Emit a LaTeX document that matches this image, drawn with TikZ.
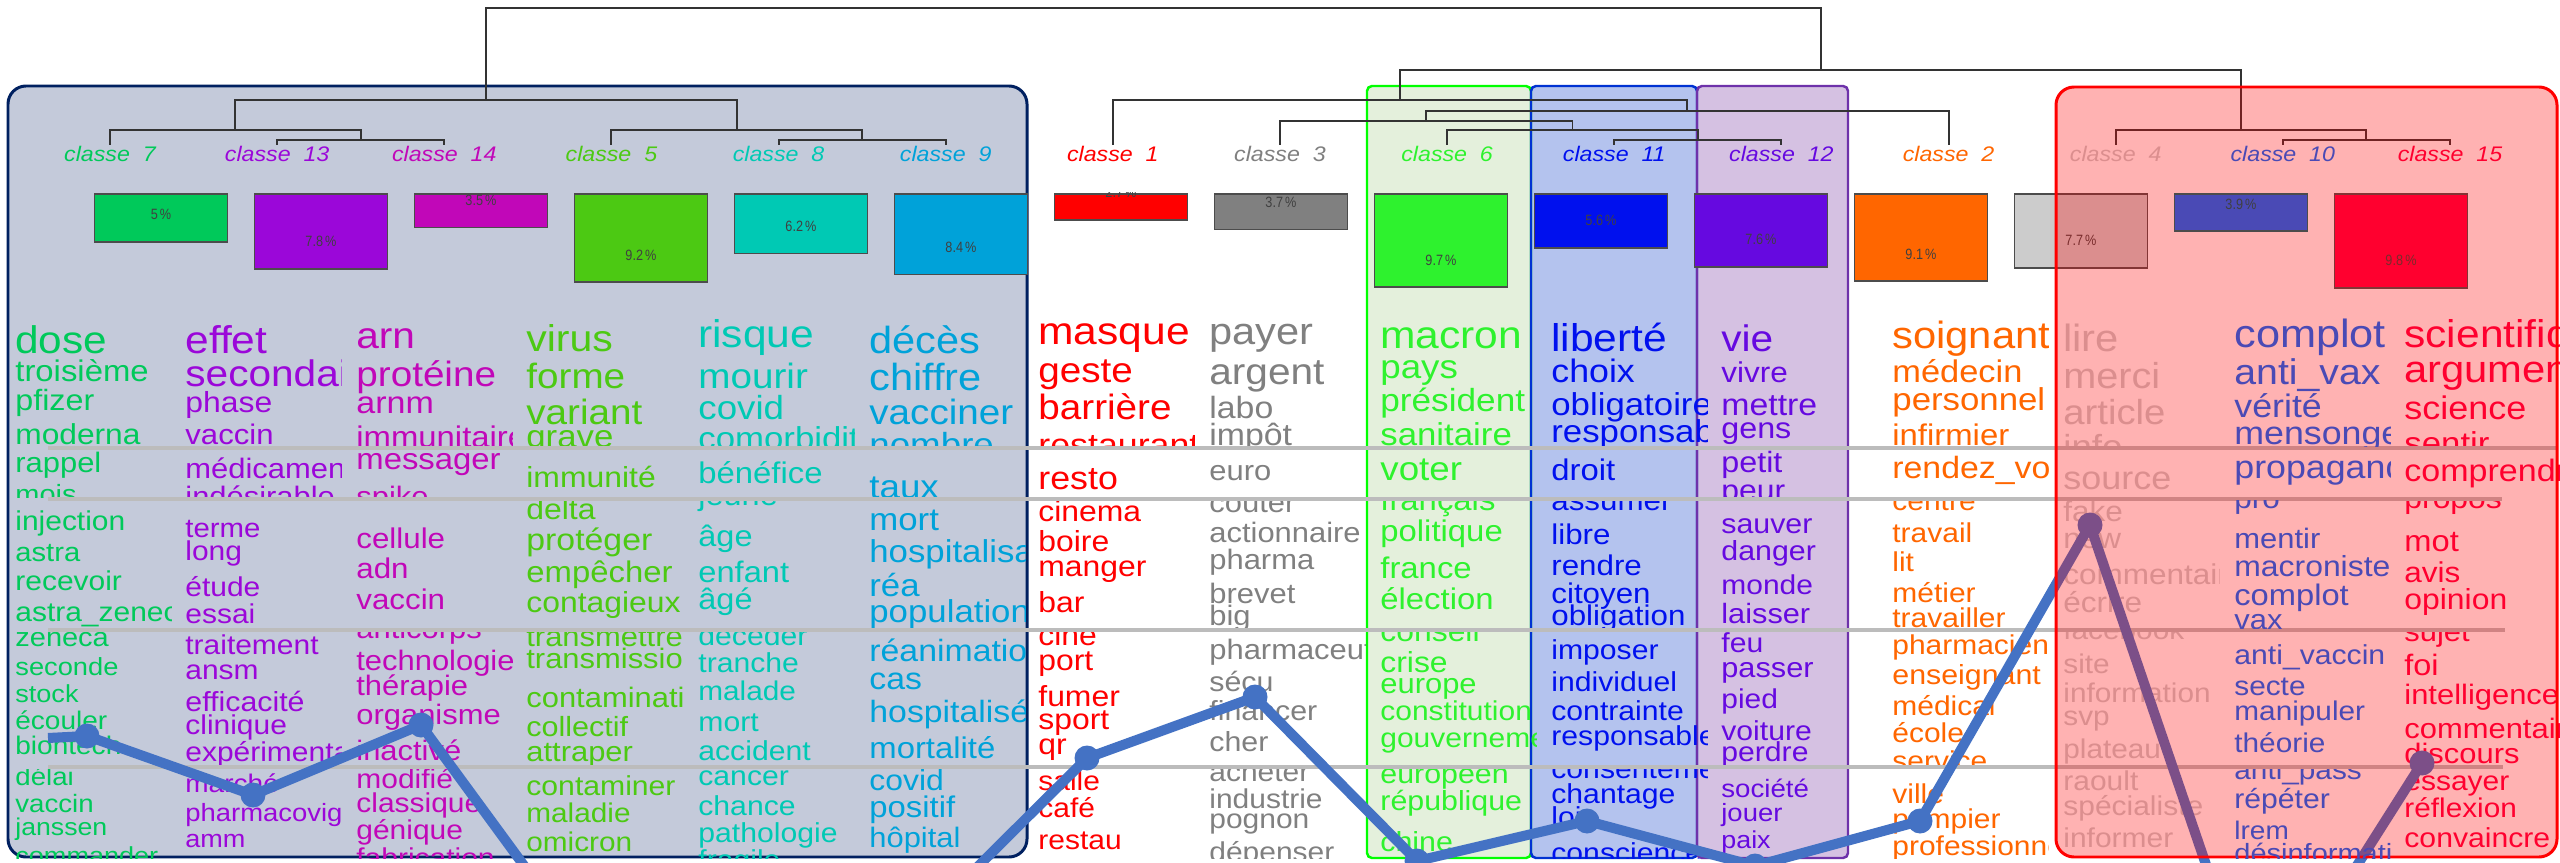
\documentclass[tikz,border=0pt]{standalone}
\usepackage{fontspec}
\setmainfont{Liberation Sans}

\definecolor{c7}{RGB}{0,201,90}
\definecolor{c13}{RGB}{155,7,217}
\definecolor{c14}{RGB}{193,7,184}
\definecolor{c5}{RGB}{76,201,19}
\definecolor{c8}{RGB}{0,201,180}
\definecolor{c9}{RGB}{0,162,217}
\definecolor{c1}{RGB}{255,0,0}
\definecolor{c3}{RGB}{128,128,128}
\definecolor{c6}{RGB}{46,242,46}
\definecolor{c11}{RGB}{0,16,238}
\definecolor{c12}{RGB}{102,9,224}
\definecolor{c2}{RGB}{255,102,0}
\definecolor{c4}{RGB}{204,204,204}
\definecolor{c10}{RGB}{74,74,181}
\definecolor{c15}{RGB}{255,0,68}
\definecolor{navy}{RGB}{0,32,96}
\definecolor{navyfill}{RGB}{196,202,218}
\definecolor{greenfill}{RGB}{228,240,220}
\definecolor{bluefill}{RGB}{180,195,238}
\definecolor{bluerule}{RGB}{0,50,210}
\definecolor{purplefill}{RGB}{213,193,226}
\definecolor{purplerule}{RGB}{110,50,170}
\definecolor{trend}{RGB}{68,114,196}
\definecolor{sep}{RGB}{188,188,188}

\pgfdeclarelayer{front}
\pgfsetlayers{main,front}

% word bands between the grey rules
\newcommand\bandtop[1]{\ifcase#1\or300\or450\or500\or632\or769\fi}
\newcommand\bandbot[1]{\ifcase#1\or446\or497\or628\or765\or858\fi}

% one column of the word cloud: class, left x, band/baseline/size/word
\newcommand\cloudcol[3]{%
  \foreach[count=\i] \bd/\yy/\sz/\wrd in {#3}{%
    \edef\cliptop{\bandtop{\bd}}\edef\clipbot{\bandbot{\bd}}%
    \begin{scope}
      \clip (#2-4,\cliptop) rectangle (#2+156,\clipbot);
      \node[word, text=c#1, font=\fontsize{\sz}{\sz}\selectfont] (w#1-\i) at (#2,\yy) {\wrd};
    \end{scope}%
  }%
}

% leaf label, size bar and percentage of one class: position, class, percent
\newcommand\classbox[3]{%
  \node[lab, text=c#2] (l#2) at ({110+167.14*(#1-1)},162) {classe\ \ #2};
  \node[pbox, fill=c#2, minimum height={#3*1.92mm}] (b#2) at ({161+160*(#1-1)},193) {};
  \begin{scope}
    \clip (b#2.south west) rectangle (b#2.north east);
    \node[pct] (t#2) at ([yshift=5.6mm]b#2.south) {#3\,\%};
  \end{scope}%
}

\tikzset{
  word/.style={anchor=base west, inner sep=0pt, xscale=1.1},
  lab/.style={anchor=base, inner sep=1pt, xscale=1.1, font=\itshape\fontsize{12}{12}\selectfont},
  pbox/.style={anchor=north, draw=black!70, line width=1pt, minimum width=26.6mm, inner sep=0pt},
  pct/.style={inner sep=0pt, xscale=0.85, text=black!75, font=\fontsize{8.5}{8.5}\selectfont},
  dendro/.style={draw=black!80, line width=1.1pt},
  sepline/.style={draw=sep, line width=2.3pt},
  trendline/.style={draw=trend, line width=5.7pt, line join=round},
  dot/.style={circle, fill=trend, inner sep=0pt, minimum size=5mm},
}

\begin{document}
\begin{tikzpicture}[x=0.2mm, y=-0.2mm]
  \useasboundingbox (0,0) rectangle (2560,863);
  \clip (0,0) rectangle (2560,863);
  \fill[white] (0,0) rectangle (2560,863);

  % groups
  \fill[navyfill, rounded corners=3.6mm] (8,86) rectangle (1027,857);
  \fill[greenfill, rounded corners=1mm] (1367,86) rectangle (1531,858);
  \fill[bluefill, rounded corners=1mm] (1531,86) rectangle (1697,858);
  \fill[purplefill, rounded corners=1mm] (1697,86) rectangle (1848,858);
  \draw[navy, line width=1.7pt, rounded corners=3.6mm] (8,86) rectangle (1027,857);
  \draw[green, line width=1.4pt, rounded corners=1mm] (1367,86) rectangle (1531,858);
  \draw[bluerule, line width=1.4pt, rounded corners=1mm] (1531,86) rectangle (1697,858);
  \draw[purplerule, line width=1.4pt, rounded corners=1mm] (1697,86) rectangle (1848,858);

  % red group lies over everything but class 10
  \begin{pgfonlayer}{front}
    \fill[red, fill opacity=0.3, rounded corners=3.6mm] (2056,87) rectangle (2557,857);
    \draw[red, line width=1.7pt, rounded corners=3.6mm] (2056,87) rectangle (2557,857);
  \end{pgfonlayer}

  % classes, sizes and percentages
  \foreach \i/\cl/\p in {1/7/5, 2/13/7.8, 3/14/3.5, 4/5/9.2, 5/8/6.2, 6/9/8.4, 7/1/2.7, 8/3/3.7,
      9/6/9.7, 10/11/5.6, 11/12/7.6, 12/2/9.1, 13/4/7.7, 15/15/9.8}
  {
    \classbox{\i}{\cl}{\p}
  }
  \begin{pgfonlayer}{front}
    \classbox{14}{10}{3.9}
  \end{pgfonlayer}

  % dendrogram
  \coordinate (m13-14) at (360.7,140);
  \coordinate (m7-14) at (235.4,130);
  \coordinate (m8-9) at (862.2,140);
  \coordinate (m5-9) at (736.8,130);
  \coordinate (m7-9) at (486.1,100);
  \coordinate (m11-12) at (1697.9,140);
  \coordinate (m6-12) at (1572.5,130);
  \coordinate (m3-12) at (1426.2,121);
  \coordinate (m2-12) at (1687.4,111);
  \coordinate (m1-12) at (1400.1,100);
  \coordinate (m10-15) at (2366.4,140);
  \coordinate (m4-15) at (2241,130);
  \coordinate (m1-15) at (1820.6,70);
  \coordinate (root) at (1153.3,8);
  \draw[dendro] (l13.north) |- (m13-14) -| (l14.north);
  \draw[dendro] (l7.north) |- (m7-14) -| (m13-14);
  \draw[dendro] (l8.north) |- (m8-9) -| (l9.north);
  \draw[dendro] (l5.north) |- (m5-9) -| (m8-9);
  \draw[dendro] (m7-14) |- (m7-9) -| (m5-9);
  \draw[dendro] (l11.north) |- (m11-12) -| (l12.north);
  \draw[dendro] (l6.north) |- (m6-12) -| (m11-12);
  \draw[dendro] (l3.north) |- (m3-12) -| (m6-12);
  \draw[dendro] (m3-12) |- (m2-12) -| (l2.north);
  \draw[dendro] (l1.north) |- (m1-12) -| (m2-12);
  \draw[dendro] (l10.north) |- (m10-15) -| (l15.north);
  \draw[dendro] (l4.north) |- (m4-15) -| (m10-15);
  \draw[dendro] (m1-12) |- (m1-15) -| (m4-15);
  \draw[dendro] (m7-9) |- (root) -| (m1-15);

  % word clouds
  \cloudcol{7}{15}{1/354/21.9/dose, 1/382/17/troisième, 1/410/16.7/pfizer, 1/444/16.4/moderna,
    2/472/16/rappel, 2/503/15/mois,
    3/530/15.5/injection, 3/561/15.1/astra, 3/590/15.5/recevoir, 3/621/15.5/astra\_zeneca,
    4/646/15/zeneca, 4/675/14.1/seconde, 4/702/14/stock, 4/729/14.5/écouler, 4/754/14.5/biontech,
    5/785/14.3/délai, 5/812/14.3/vaccin, 5/835/13.8/janssen, 5/864/14/commander}
  \cloudcol{13}{185}{1/354/22/effet, 1/386/21/secondaire, 1/412/16.5/phase, 1/444/16.1/vaccin,
    2/478/16/médicament, 2/506/16/indésirable,
    3/537/15.2/terme, 3/560/15.5/long, 3/596/15.5/étude, 3/623/15.5/essai,
    4/654/15.5/traitement, 4/679/15.5/ansm, 4/711/15.7/efficacité, 4/734/15.5/clinique, 4/761/15.5/expérimentation,
    5/792/14.5/marché, 5/821/14.2/pharmacovigilance, 5/847/14/amm}
  \cloudcol{14}{356}{1/348/21/arn, 1/386/20/protéine, 1/413/17.6/arnm, 1/447/17/immunitaire,
    2/469/17/messager, 2/506/16/spike,
    3/548/16.2/cellule, 3/578/16.2/adn, 3/609/16.2/vaccin,
    4/638/16/anticorps, 4/670/16/technologie, 4/695/16/thérapie, 4/724/16/organisme, 4/760/16/inactivé,
    5/788/15.5/modifié, 5/812/15.5/classique, 5/839/15.5/génique, 5/867/15.5/fabrication}
  \cloudcol{5}{526}{1/352/21.2/virus, 1/388/20/forme, 1/424/20/variant, 1/447/18/grave,
    2/487/16.5/immunité,
    3/519/16.5/delta, 3/550/17.5/protéger, 3/582/17/empêcher, 3/612/16.5/contagieux,
    4/646/16/transmettre, 4/668/16/transmission, 4/707/16/contamination, 4/736/15.8/collectif, 4/761/16/attraper,
    5/795/15.6/contaminer, 5/822/15.4/maladie, 5/851/15.4/omicron}
  \cloudcol{8}{698}{1/347/22/risque, 1/388/20/mourir, 1/420/19/covid, 1/449/18/comorbidité,
    2/483/17/bénéfice,
    3/505/16.8/jeune, 3/546/16.8/âge, 3/582/16.9/enfant, 3/609/16.8/âgé,
    4/645/15.6/décéder, 4/672/15.6/tranche, 4/700/15.4/malade, 4/731/15.6/mort, 4/760/15.6/accident,
    5/785/15.6/cancer, 5/815/15.6/chance, 5/842/15.6/pathologie, 5/869/15.6/fragile}
  \cloudcol{9}{869}{1/354/21.5/décès, 1/390/21.5/chiffre, 1/424/20/vacciner, 1/456/19/nombre,
    2/498/19/taux,
    3/530/18/mort, 3/562/18/hospitalisation, 3/596/18/réa, 3/622/18/population,
    4/661/17.5/réanimation, 4/689/17.5/cas, 4/722/17.5/hospitalisé, 4/758/17/mortalité,
    5/790/16.5/covid, 5/817/17/positif, 5/847/16/hôpital}
  \cloudcol{1}{1038}{1/345/22/masque, 1/383/20/geste, 1/420/20/barrière, 1/456/18.5/restaurant,
    2/489/18.5/resto,
    3/521/16.5/cinema, 3/551/16.5/boire, 3/576/16.5/manger, 3/612/16.5/bar,
    4/645/16.5/ciné, 4/670/16.5/port, 4/706/16.5/fumer, 4/729/16.5/sport, 4/754/16.5/qr,
    5/790/15.5/salle, 5/817/15.5/café, 5/849/15.5/restau}
  \cloudcol{3}{1209}{1/345/21.5/payer, 1/384/21/argent, 1/418/17.5/labo, 1/445/17.5/impôt,
    2/480/16/euro,
    3/512/16/coûter, 3/542/16/actionnaire, 3/569/16/pharma, 3/603/16/brevet, 3/625/16/big,
    4/659/16/pharmaceutique, 4/691/15.7/sécu, 4/720/15.7/financer, 4/751/15.7/cher,
    5/781/15.5/acheter, 5/808/15.5/industrie, 5/828/15.5/pognon, 5/861/15.5/dépenser}
  \cloudcol{6}{1380}{1/348/22/macron, 1/379/19/pays, 1/411/18.2/président, 1/445/18/sanitaire,
    2/480/19/voter,
    3/510/17/français, 3/541/17/politique, 3/578/17/france, 3/609/17/élection,
    4/641/16.5/conseil, 4/672/16.5/crise, 4/693/16/europe, 4/720/15.5/constitution, 4/747/15.5/gouvernement,
    5/783/15.7/européen, 5/810/15.7/république, 5/851/15.7/chine}
  \cloudcol{11}{1551}{1/352/22/liberté, 1/383/18.5/choix, 1/415/18/obligatoire, 1/442/18/responsable,
    2/480/17/droit,
    3/510/16.2/assumer, 3/544/16.2/libre, 3/575/16.2/rendre, 3/603/16.2/citoyen, 3/625/16.2/obligation,
    4/659/15.6/imposer, 4/691/15.6/individuel, 4/720/15.6/contrainte, 4/745/15.6/responsable,
    5/778/15.6/consentement, 5/803/15.6/chantage, 5/826/15.6/loi, 5/862/15.6/conscience}
  \cloudcol{12}{1721}{1/352/21/vie, 1/383/16.3/vivre, 1/415/17.5/mettre, 1/438/16.7/gens,
    2/472/16.7/petit, 2/500/16.5/peur,
    3/533/15.7/sauver, 3/560/15.7/danger, 3/594/15.5/monde, 3/623/15.9/laisser,
    4/652/15.6/feu, 4/677/15.9/passer, 4/708/15.5/pied, 4/740/15.6/voiture, 4/761/15.6/perdre,
    5/797/14.3/société, 5/821/14.2/jouer, 5/848/13.9/paix}
  \cloudcol{2}{1892}{1/348/21.6/soignant, 1/383/17.8/médecin, 1/410/18/personnel, 1/445/17/infirmier,
    2/478/17.5/rendez\_vous,
    3/510/15.5/centre, 3/542/15.5/travail, 3/571/15.5/lit, 3/602/15.5/métier, 3/627/15.5/travailler,
    4/654/15.5/pharmacien, 4/684/15.7/enseignant, 4/715/15.5/médical, 4/742/15.5/école, 4/770/15.5/service,
    5/803/15.5/ville, 5/828/15.5/pompier, 5/855/15.5/professionnel}
  \cloudcol{4}{2063}{1/352/21.6/lire, 1/388/20.5/merci, 1/424/19.8/article, 1/458/19/info,
    2/489/18.6/source,
    3/521/16.3/fake, 3/548/16.3/new, 3/584/16.3/commentaire, 3/612/16.3/écrire,
    4/639/15.4/facebook, 4/673/15.4/site, 4/702/15.4/information, 4/725/15.4/svp, 4/758/15.4/plateau,
    5/790/15.5/raoult, 5/815/15.5/spécialiste, 5/847/15.5/informer}
  \begin{pgfonlayer}{front}
  \cloudcol{10}{2234}{1/347/22.4/complot, 1/384/20.3/anti\_vax, 1/417/18.5/vérité, 1/444/18.5/mensonge,
    2/478/18.5/propagande,
    3/508/16.3/pro, 3/548/16/mentir, 3/576/16.5/macroniste, 3/605/16.9/complot, 3/629/16/vax,
    4/664/15.6/anti\_vaccin, 4/695/15.4/secte, 4/720/15.4/manipuler, 4/752/15.4/théorie,
    5/779/15.4/anti\_pass, 5/808/15.6/répéter, 5/839/14.5/lrem, 5/862/15/désinformation}
  \end{pgfonlayer}
  \cloudcol{15}{2404}{1/347/22/scientifique, 1/383/21.6/argument, 1/420/18.6/science, 1/454/18/sentir,
    2/481/17.6/comprendre,
    3/508/16.5/propos, 3/551/16.9/mot, 3/582/16.3/avis, 3/609/16.5/opinion,
    4/641/16/sujet, 4/675/16.8/foi, 4/704/16/intelligence, 4/738/16/commentaire, 4/763/16/discours,
    5/790/15.5/essayer, 5/817/15.4/réflexion, 5/847/15.6/convaincre}

  % grey rules
  \foreach \y/\e in {448/2557, 499/2502, 630/2505, 767/2503}
    \draw[sepline] (48,\y) -- (\e,\y);

  % trend line
  \coordinate (p0) at (48,738);
  \coordinate (q1) at (588,953);
  \coordinate (q2) at (755,1010);
  \coordinate (q3) at (922,922);
  \coordinate (q4) at (2259,1020);
  \foreach[count=\k] \px/\py in {87/736, 253/795, 421/725, 1087/758, 1255/697, 1417/861,
      1587/821, 1755/866, 1920/821, 2090/525, 2422/763}
    \coordinate (d\k) at (\px,\py);
  \draw[trendline] (p0) -- (d1) -- (d2) -- (d3) -- (q1) -- (q2) -- (q3) -- (d4) -- (d5) -- (d6)
    -- (d7) -- (d8) -- (d9) -- (d10) -- (q4) -- (d11);
  \foreach \k in {1,...,11}
    \node[dot] (dot\k) at (d\k) {};
\end{tikzpicture}
\end{document}
